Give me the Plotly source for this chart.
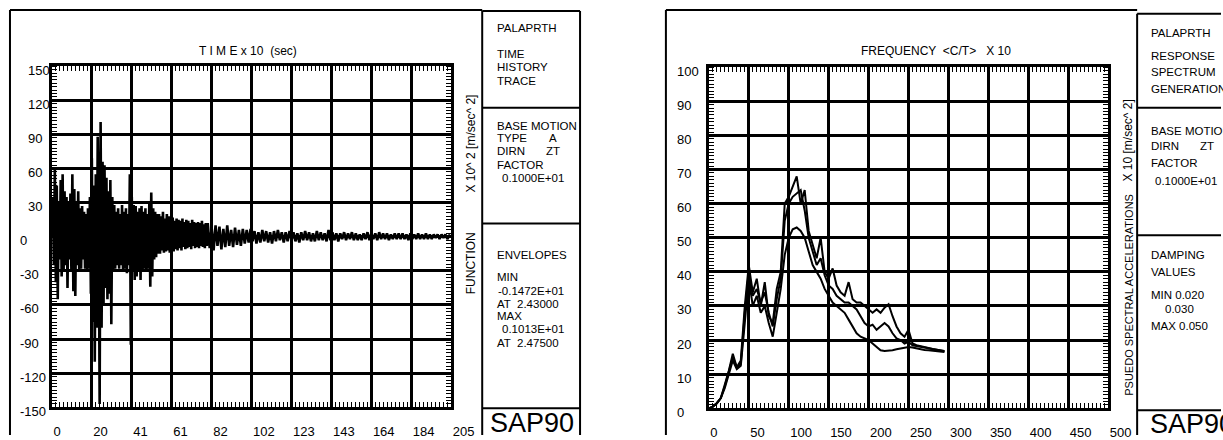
import plotly.graph_objects as go

# ---------------- time history trace (x 10^2 m/sec^2) ----------------
# strong-motion part sampled every 0.5 (time x 10 sec), coda every 1.0
accel_early = [
    0, 35, -25, 60, -40, 45, -55, 30, -20, 50,
    -35, 55, -30, 40, -25, 35, -45, 30, -20, 38,
    -30, 55, -48, 42, -52, 30, -25, 40, -30, 25,
    -28, 27, -20, 22, -28, 20, -30, 25, -28, 35,
    -50, 69, -75, 45, -110, 55, -80, 88, 20, -147,
    101, -80, 66, -60, 63, -45, 52, -55, 40, -50,
    50, -77, 35, -30, 28, -28, 22, -25, 25, -28,
    20, -25, 28, -30, 22, -28, 25, -32, 20, -25,
    55, -95, 35, -30, 28, -38, 27, -35, 22, -30,
    25, -38, 27, -30, 22, -28, 25, -30, 20, -28,
    30, -44, 39, -35, 25, -20, 22, -18, 20, -15,
    20, -15, 18, -12, 22, -14, 16, -13, 20, -12,
    18, -14, 15, -10, 17, -13, 14, -11, 16, -12,
    15, -10, 14, -12, 16, -9, 13, -11, 15, -10,
    14, -9, 12, -11, 15, -8, 13, -10, 12, -9,
    13, -10, 12, -8, 14, -9, 11, -10, 12, -8,
]
accel_late = [
    12, -10, 8, -12, 10, -8, 9, -11, 7, -9, 10, -8, 6, -9, 8, -7, 6, -8, 7, -6,
    6, -5, 7, -4, 5, -6, 4, -5, 6, -4, 5, -5, 4, -6, 5, -4, 6, -3, 4, -5,
    4, -4, 5, -3, 4, -4, 3, -5, 4, -3, 5, -3, 4, -4, 3, -4, 5, -3, 4, -3,
    3, -4, 6, -3, 4, -3, 3, -4, 3, -2, 4, -3, 3, -2, 4, -3, 3, -3, 2, -3,
    3, -2, 4, -3, 3, -2, 3, -3, 4, -2, 3, -2, 3, -3, 2, -2, 3, -2, 3, -2,
    3, -2, 2, -3, 3, -2, 2, -2, 3, -2, 2, -2, 3, -2, 2, -2, 2, -1, 2, -2,
    2, -1, 2, -2, 1, 0,
]
DT_EARLY, DT_LATE, T_SPLIT = 0.5, 1.0, 80.0
time_early = [i * DT_EARLY for i in range(len(accel_early))]
time_late = [T_SPLIT + i * DT_LATE for i in range(len(accel_late))]
time_all = time_early + time_late
accel_all = accel_early + accel_late

time_ticks = [0, 20.5, 41, 61.5, 82, 102.5, 123, 143.5, 164, 184.5, 205]
time_tick_text = ["0", "20", "41", "61", "82", "102", "123", "143", "164", "184", "205"]
accel_ticks = [150, 120, 90, 60, 30, 0, -30, -60, -90, -120, -150]

# ---------------- response spectra (x 10 m/sec^2) ----------------
freq = [5 * i for i in range(60)]  # frequency <C/T> x 10
psa_d020 = [
    0, 0.5, 1.5, 3, 7, 11, 16, 12, 14, 30,
    42, 34, 38, 30, 37, 27, 25, 35, 40, 60,
    62, 65, 68, 60, 64, 52, 48, 44, 50, 40,
    38, 41, 36, 34, 33, 37, 32, 31, 31, 30,
    29, 28, 29, 28, 29.5, 30.5, 27, 24, 22, 21,
    23, 19, 18.5, 18.3, 18, 17.7, 17.4, 17.2, 17, 16.8,
]
psa_d030 = [
    0, 0.5, 1.5, 3, 6.5, 10.5, 15, 12, 13, 28,
    40, 33, 35, 31, 34, 28, 24, 32, 38, 55,
    60, 62, 63, 64, 58, 50, 46, 42, 44, 39,
    36, 35, 33, 32, 31, 31, 30, 29, 27, 25,
    24, 24.5, 23, 24, 25, 24, 22, 20.5, 20, 19,
    19.5, 18.5, 18.3, 18.1, 17.9, 17.6, 17.3, 17.1, 16.9, 16.7,
]
psa_d050 = [
    0, 0.5, 1.5, 3, 6, 10, 14, 11.5, 12.5, 25,
    38, 30, 33, 28, 30, 25, 21, 28, 35, 45,
    50, 52.5, 53, 52, 50, 46, 42, 40, 38, 35,
    33, 31, 30, 29, 28, 26, 24, 22, 21, 20.5,
    20, 19, 18, 17, 16.8, 16.8, 17, 17.3, 17.5, 17.8,
    18, 17.8, 17.5, 17.3, 17.1, 17, 16.9, 16.8, 16.6, 16.5,
]
freq_ticks = [0, 50, 100, 150, 200, 250, 300, 350, 400, 450, 500]
psa_ticks = [100, 90, 80, 70, 60, 50, 40, 30, 20, 10, 0]

# ---------------- page geometry ----------------
# positions are given on a 1223 x 440 sheet; the page is drawn a little wider
BASE_W, BASE_H = 1223, 440
W, H = 1244, 440
FONT = "Liberation Sans, Arial, sans-serif"


def fx(p):
    return p / BASE_W


def fy(p):
    return 1 - p / BASE_H


fig = go.Figure()
fig.add_trace(go.Scatter(x=time_all, y=accel_all, mode="lines",
                         line=dict(color="black", width=2.6),
                         xaxis="x", yaxis="y", showlegend=False))
for vals in (psa_d020, psa_d030, psa_d050):
    fig.add_trace(go.Scatter(x=freq, y=vals, mode="lines",
                             line=dict(color="black", width=2),
                             xaxis="x2", yaxis="y2", showlegend=False))


def axis_style(**kw):
    base = dict(showgrid=True, gridcolor="black", gridwidth=2.5,
                showline=True, linecolor="black", linewidth=3, mirror="allticks",
                zeroline=False, ticks="", fixedrange=True,
                tickfont=dict(family=FONT, size=13, color="black"))
    base.update(kw)
    return base


def minor(step):
    return dict(ticks="inside", ticklen=5, tickwidth=1, tickcolor="black",
                dtick=step, showgrid=False)


fig.update_layout(
    width=W, height=H, autosize=False, margin=dict(l=0, r=0, t=0, b=0, pad=0),
    paper_bgcolor="white", plot_bgcolor="white", showlegend=False,
    xaxis=axis_style(domain=[fx(52), fx(452)], range=[0, 205], anchor="y",
                     tickmode="array", tickvals=time_ticks, ticktext=time_tick_text,
                     ticklabelposition="outside right", ticklabelstandoff=10, minor=minor(2.05)),
    yaxis=axis_style(domain=[fy(412), fy(67)], range=[-150, 150], anchor="x",
                     tickmode="array", tickvals=accel_ticks, showticklabels=False, minor=minor(3)),
    xaxis2=axis_style(domain=[fx(710), fx(1110)], range=[0, 500], anchor="y2",
                      tickmode="array", tickvals=freq_ticks,
                      ticklabelposition="outside right", ticklabelstandoff=10, minor=minor(5)),
    yaxis2=axis_style(domain=[fy(413), fy(68)], range=[0, 100], anchor="x2",
                      tickmode="array", tickvals=psa_ticks, showticklabels=False, minor=minor(1)),
)

# y tick labels, left-justified in a column beside each grid
for v in accel_ticks:
    fig.add_annotation(xref="paper", yref="y", x=fx(18 if v <= 0 else 26), y=v,
                       text=str(v), showarrow=False, xanchor="left", yanchor="middle",
                       yshift=-4, font=dict(family=FONT, size=13, color="black"))
for v in psa_ticks:
    fig.add_annotation(xref="paper", yref="y2", x=fx(676), y=v,
                       text=str(v), showarrow=False, xanchor="left", yanchor="middle",
                       yshift=-4, font=dict(family=FONT, size=13, color="black"))


def label(text, x, y, size=11.5, anchor="left", angle=0):
    fig.add_annotation(xref="paper", yref="paper", x=fx(x), y=fy(y), text=text,
                       showarrow=False, xanchor=anchor, yanchor="middle",
                       textangle=angle, borderpad=0,
                       font=dict(family=FONT, size=size, color="black"))


# axis titles
label("T I M E x 10  (sec)", 248, 52, size=12, anchor="center")
label("FREQUENCY  &lt;C/T&gt;   X 10", 938, 52, size=12, anchor="center")
label("X 10^ 2 [m/sec^ 2]", 472, 145, size=12, anchor="center", angle=-90)
label("FUNCTION", 472, 266, size=12, anchor="center", angle=-90)
label("X 10 [m/sec^ 2]", 1130, 142, size=12, anchor="center", angle=-90)
label("PSUEDO SPECTRAL ACCELERATIONS", 1130, 298, size=11, anchor="center", angle=-90)

# information panel: time history
for text, x, y in [
    ("PALAPRTH", 497, 28), ("TIME", 497, 55), ("HISTORY", 497, 68), ("TRACE", 497, 82),
    ("BASE MOTION", 497, 127), ("TYPE", 497, 140), ("A", 549, 140),
    ("DIRN", 497, 153), ("ZT", 546, 153), ("FACTOR", 497, 167), ("0.1000E+01", 502, 180),
    ("ENVELOPES", 497, 258), ("MIN", 497, 280), ("-0.1472E+01", 498, 294),
    ("AT", 497, 307), ("2.43000", 517, 307), ("MAX", 497, 320),
    ("0.1013E+01", 502, 333), ("AT", 497, 347), ("2.47500", 517, 347),
]:
    label(text, x, y)
label("SAP90", 533, 428, size=27, anchor="center")

# information panel: response spectrum
for text, x, y in [
    ("PALAPRTH", 1152, 33), ("RESPONSE", 1152, 57), ("SPECTRUM", 1152, 73), ("GENERATION", 1152, 90),
    ("BASE MOTION", 1152, 132), ("DIRN", 1152, 148), ("ZT", 1201, 148),
    ("FACTOR", 1152, 165), ("0.1000E+01", 1156, 183),
    ("DAMPING", 1152, 258), ("VALUES", 1152, 275),
    ("MIN 0.020", 1152, 298), ("0.030", 1166, 313), ("MAX 0.050", 1152, 330),
]:
    label(text, x, y)
label("SAP90", 1151, 429, size=27, anchor="left")


# frames and panel dividers
def seg(x0, y0, x1, y1, w=2):
    fig.add_shape(type="line", xref="paper", yref="paper",
                  x0=fx(x0), y0=fy(y0), x1=fx(x1), y1=fy(y1),
                  line=dict(color="black", width=w))


seg(10, 10, 10, 440)
seg(10, 10, 483, 10)
seg(483, 11, 483, 440)
seg(581, 11, 581, 440)
seg(483, 11, 581, 11)
for yy in (109, 226, 413):
    seg(483, yy, 581, yy)

seg(667, 10, 667, 440)
seg(667, 10, 1139, 10)
seg(1139, 14, 1139, 440)
seg(1139, 14, 1223, 14)
for yy in (109, 238, 415):
    seg(1139, yy, 1223, yy)

fig.write_html("out.html", config={"responsive": False, "displayModeBar": False})
